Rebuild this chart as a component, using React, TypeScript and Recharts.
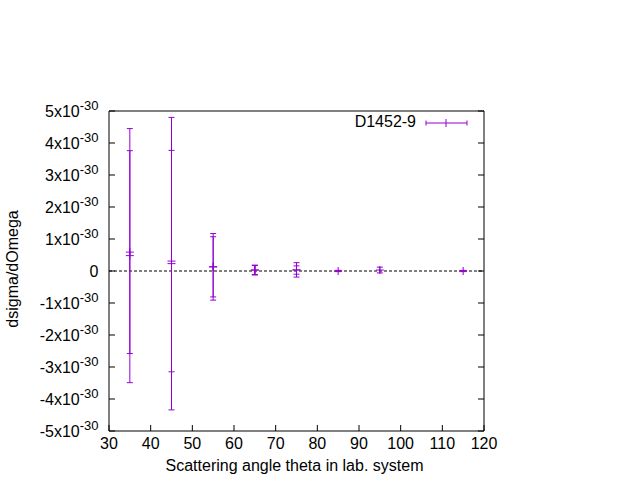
import React from 'react';
import { ScatterChart, Scatter, XAxis, YAxis, ErrorBar, ReferenceLine, Legend, Label } from 'recharts';

// Scattering angle (deg) and dsigma/dOmega in units of 1e-30
const theta = [35, 35, 45, 45, 55, 55, 65, 65, 75, 75, 85, 95, 115];
const dsigma = [0.59, 0.48, 0.31, 0.23, 0.13, 0.13, 0.03, 0.03, 0.035, 0.03, 0.0, 0.03, 0.0];
const dsigmaErr = [3.17, 3.97, 3.46, 4.57, 0.94, 1.04, 0.155, 0.14, 0.225, 0.13, 0.02, 0.09, 0.02];
const xTicks = [30, 40, 50, 60, 70, 80, 90, 100, 110, 120];
const yTicks = [-5, -4, -3, -2, -1, 0, 1, 2, 3, 4, 5];
const exponent = '-30';
const seriesName = 'D1452-9';
const xTitle = 'Scattering angle theta in lab. system';
const yTitle = 'dsigma/dOmega';

const data = theta.map((t, i) => ({ theta: t, y: dsigma[i], err: dsigmaErr[i] }));

const FONT = '"Liberation Sans", Arial, sans-serif';
const COLOR = '#9400d3';

const XTick = (props: any) => {
  const { x, y, payload } = props;
  return (
    <text x={x} y={y} dy={11.5} textAnchor="middle" fontSize={16} fill="#000" fontFamily={FONT}>
      {payload.value}
    </text>
  );
};

const YTick = (props: any) => {
  const { x, y, payload } = props;
  const v = payload.value;
  return (
    <text x={x} y={y} dy={5.6} textAnchor="end" fontSize={16} fill="#000" fontFamily={FONT}>
      {v === 0 ? (
        '0'
      ) : (
        <>
          <tspan>{`${v}x10`}</tspan>
          <tspan dy={-6.6} fontSize={13}>{exponent}</tspan>
        </>
      )}
    </text>
  );
};

const NoTick = () => <g />;

const PlusShape = (props: any) => {
  const { cx, cy } = props;
  if (cx == null || cy == null) return <g />;
  return (
    <path
      d={`M${cx - 4},${cy}H${cx + 4}M${cx},${cy - 4}V${cy + 4}`}
      stroke={COLOR}
      strokeWidth={1}
      fill="none"
    />
  );
};

const LegendContent = () => (
  <svg width={140} height={30} style={{ display: 'block', overflow: 'visible' }}>
    <text x={76} y={21.7} textAnchor="end" fontSize={16} fill="#000" fontFamily={FONT}>
      {seriesName}
    </text>
    <path d="M86,18H127M86,15.5V20.5M127,15.5V20.5M106,14V22" stroke={COLOR} strokeWidth={1} fill="none" />
  </svg>
);

export default function App() {
  return (
    <div style={{ position: 'absolute', left: 0, top: 0, width: 640, height: 480, background: '#fff' }}>
      <ScatterChart width={640} height={480} margin={{ top: 101, right: 146, bottom: 9, left: 9 }}>
        <XAxis
          xAxisId={0}
          type="number"
          dataKey="theta"
          domain={[30, 120]}
          ticks={xTicks}
          interval={0}
          allowDataOverflow
          orientation="bottom"
          height={40}
          tickSize={-6}
          tickMargin={12}
          tick={<XTick />}
          axisLine={{ stroke: '#000', strokeWidth: 1 }}
          tickLine={{ stroke: '#000', strokeWidth: 1 }}
        >
          <Label
            content={(p: any) => {
              const vb = p.viewBox || {};
              return (
                <text
                  x={vb.x + vb.width / 2 - 2}
                  y={470.5}
                  textAnchor="middle"
                  fontSize={16}
                  fill="#000"
                  fontFamily={FONT}
                >
                  {xTitle}
                </text>
              );
            }}
          />
        </XAxis>
        <XAxis
          xAxisId="top"
          type="number"
          domain={[30, 120]}
          ticks={xTicks}
          interval={0}
          allowDataOverflow
          orientation="top"
          height={10}
          tickSize={-6}
          tick={<NoTick />}
          axisLine={{ stroke: '#000', strokeWidth: 1 }}
          tickLine={{ stroke: '#000', strokeWidth: 1 }}
        />
        <YAxis
          yAxisId={0}
          type="number"
          dataKey="y"
          domain={[-5, 5]}
          ticks={yTicks}
          interval={0}
          allowDataOverflow
          orientation="left"
          width={100}
          tickSize={-6}
          tickMargin={16.5}
          tick={<YTick />}
          axisLine={{ stroke: '#000', strokeWidth: 1 }}
          tickLine={{ stroke: '#000', strokeWidth: 1 }}
        >
          <Label
            content={(p: any) => {
              const vb = p.viewBox || {};
              const cy = vb.y + vb.height / 2 - 2;
              return (
                <text
                  x={18}
                  y={cy}
                  transform={`rotate(-90 18 ${cy})`}
                  textAnchor="middle"
                  fontSize={16}
                  fill="#000"
                  fontFamily={FONT}
                >
                  {yTitle}
                </text>
              );
            }}
          />
        </YAxis>
        <YAxis
          yAxisId="right"
          type="number"
          domain={[-5, 5]}
          ticks={yTicks}
          interval={0}
          allowDataOverflow
          orientation="right"
          width={10}
          tickSize={-6}
          tick={<NoTick />}
          axisLine={{ stroke: '#000', strokeWidth: 1 }}
          tickLine={{ stroke: '#000', strokeWidth: 1 }}
        />
        <ReferenceLine y={0} xAxisId={0} yAxisId={0} stroke="#000" strokeWidth={1} strokeDasharray="3 2" />
        <Legend
          verticalAlign="middle"
          align="center"
          layout="horizontal"
          wrapperStyle={{ left: 340, top: 105, width: 140, height: 30, margin: 0, padding: 0, lineHeight: 0 }}
          content={<LegendContent />}
        />
        <Scatter
          name={seriesName}
          data={data}
          xAxisId={0}
          yAxisId={0}
          dataKey="y"
          fill={COLOR}
          shape={<PlusShape />}
          isAnimationActive={false}
        >
          <ErrorBar dataKey="err" direction="y" width={3} stroke={COLOR} strokeWidth={1} isAnimationActive={false} />
        </Scatter>
      </ScatterChart>
    </div>
  );
}
